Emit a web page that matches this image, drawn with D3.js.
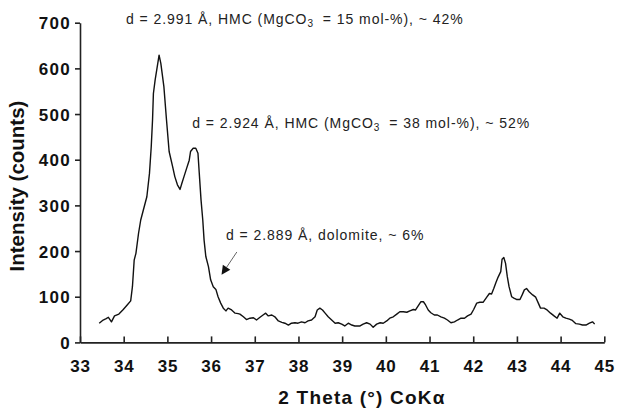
<!DOCTYPE html>
<html>
<head>
<meta charset="utf-8">
<script src="https://cdn.jsdelivr.net/npm/d3@7"></script>
<style>
  html, body { margin: 0; padding: 0; background: #fff; }
  svg { display: block; }
</style>
</head>
<body>
<svg id="chart" width="619" height="409"></svg>
<script>
const twoTheta = [33.44,33.53,33.60,33.65,33.72,33.79,33.89,33.99,34.08,34.16,34.20,34.24,34.28,34.34,34.39,34.45,34.53,34.59,34.63,34.66,34.68,34.72,34.78,34.81,34.85,34.92,34.98,35.04,35.12,35.17,35.23,35.29,35.33,35.38,35.44,35.50,35.53,35.59,35.65,35.70,35.73,35.77,35.81,35.84,35.88,35.94,35.99,36.05,36.11,36.16,36.22,36.28,36.34,36.39,36.47,36.55,36.62,36.66,36.74,36.81,36.89,36.97,37.04,37.12,37.19,37.25,37.31,37.39,37.46,37.54,37.62,37.69,37.77,37.84,37.92,37.99,38.07,38.15,38.22,38.30,38.38,38.43,38.49,38.55,38.61,38.68,38.76,38.84,38.91,38.99,39.06,39.14,39.22,39.29,39.41,39.48,39.56,39.64,39.71,39.79,39.87,39.94,40.02,40.09,40.17,40.25,40.32,40.40,40.48,40.55,40.63,40.68,40.74,40.80,40.86,40.91,40.97,41.03,41.11,41.18,41.26,41.34,41.41,41.49,41.57,41.64,41.72,41.80,41.87,41.95,42.01,42.08,42.15,42.23,42.31,42.37,42.42,42.47,42.52,42.57,42.63,42.66,42.70,42.74,42.78,42.82,42.88,42.93,42.99,43.07,43.12,43.17,43.22,43.28,43.36,43.43,43.49,43.54,43.62,43.69,43.77,43.85,43.92,43.98,44.05,44.12,44.20,44.27,44.35,44.43,44.50,44.58,44.66,44.73,44.78];
const intensity = [42,49,52,55,45,58,62,72,82,91,122,180,195,239,268,290,319,370,428,487,545,575,611,629,611,560,487,418,385,363,345,335,348,363,381,399,418,425,425,414,370,312,268,224,188,166,137,122,116,100,86,75,69,75,71,64,63,62,56,50,53,54,49,55,60,64,58,60,56,47,44,42,38,42,43,42,45,43,47,49,56,71,75,71,64,56,49,42,43,40,36,42,38,36,36,40,43,40,33,40,43,42,47,53,56,62,67,67,66,69,72,71,80,89,89,82,71,65,60,60,56,53,49,43,45,49,53,53,58,62,72,86,88,88,99,107,106,118,131,143,155,182,186,173,144,122,100,97,94,94,104,115,118,111,104,99,86,75,75,71,64,58,53,64,56,53,51,48,41,40,38,38,42,45,40];

const xTicks = [33,34,35,36,37,38,39,40,41,42,43,44,45];
const yTicks = [0,100,200,300,400,500,600,700];

const xTitle = "2 Theta (°) CoKα";
const yTitle = "Intensity (counts)";

const annotations = [
  { x: 34.05, y: 697, pre: "d = 2.991 Å, HMC (MgCO", sub: "3", post: " = 15 mol-%), ~ 42%" },
  { x: 35.57, y: 469, pre: "d = 2.924 Å, HMC (MgCO", sub: "3", post: " = 38 mol-%), ~ 52%" },
  { x: 36.34, y: 224, pre: "d = 2.889 Å, dolomite, ~ 6%", sub: "", post: "" }
];
const arrowFrom = { x: 36.59, y: 198 };
const arrowTo = { x: 36.24, y: 148 };

const svg = d3.select("#chart");
const x = d3.scaleLinear().domain([33, 45]).range([80, 604.3]);
const y = d3.scaleLinear().domain([0, 700]).range([342.4, 22.7]);

const tickFont = "Liberation Sans, Arial, Helvetica, sans-serif";

// X axis
const xAxis = d3.axisBottom(x).tickValues(xTicks).tickSizeInner(-6).tickSizeOuter(0).tickPadding(14);
const gx = svg.append("g").attr("transform", `translate(0,${y(0)})`).call(xAxis);
gx.select(".domain").attr("stroke", "#222").attr("stroke-width", 1.6);
gx.selectAll(".tick line").attr("stroke", "#222").attr("stroke-width", 1.6);
gx.selectAll(".tick text")
  .attr("font-family", tickFont).attr("font-weight", "bold").attr("font-size", 17)
  .attr("letter-spacing", 0.8).attr("fill", "#111").attr("dy", null).attr("y", 29.5)
  .attr("dominant-baseline", "alphabetic");

// Y axis
const yAxis = d3.axisLeft(y).tickValues(yTicks).tickSizeInner(5).tickSizeOuter(0).tickPadding(4);
const gy = svg.append("g").attr("transform", `translate(${x(33)},0)`).call(yAxis);
gy.select(".domain").attr("stroke", "#222").attr("stroke-width", 1.6);
gy.selectAll(".tick line").attr("stroke", "#222").attr("stroke-width", 1.6);
gy.selectAll(".tick text")
  .attr("font-family", tickFont).attr("font-weight", "bold").attr("font-size", 17)
  .attr("letter-spacing", 1.3).attr("fill", "#111").attr("dy", "0.36em");

// Titles
svg.append("text")
  .attr("x", 362).attr("y", 404).attr("text-anchor", "middle")
  .attr("font-family", tickFont).attr("font-weight", "bold").attr("font-size", 19)
  .attr("letter-spacing", 1.2).attr("fill", "#111").text(xTitle);

svg.append("text")
  .attr("transform", "translate(24,186) rotate(-90)").attr("text-anchor", "middle")
  .attr("font-family", tickFont).attr("font-weight", "bold").attr("font-size", 20.5)
  .attr("fill", "#111").text(yTitle);

// Curve
const pts = twoTheta.map((t, i) => [t, intensity[i]]);
svg.append("path")
  .datum(pts)
  .attr("fill", "none").attr("stroke", "#111").attr("stroke-width", 1.4)
  .attr("stroke-linejoin", "round")
  .attr("d", d3.line().x(d => x(d[0])).y(d => y(d[1])));

// Annotations
annotations.forEach(a => {
  const t = svg.append("text")
    .attr("x", x(a.x)).attr("y", y(a.y))
    .attr("font-family", tickFont).attr("font-size", 14)
    .attr("letter-spacing", 0.95).attr("fill", "#222");
  t.append("tspan").text(a.pre);
  if (a.sub) {
    t.append("tspan").attr("font-size", 10).attr("dy", 3).text(a.sub);
    t.append("tspan").attr("dy", -3).attr("dx", 4).text(a.post);
  }
});

// Arrow
const x1 = x(arrowFrom.x), y1 = y(arrowFrom.y), x2 = x(arrowTo.x), y2 = y(arrowTo.y);
const ang = Math.atan2(y2 - y1, x2 - x1);
const hl = 9, hw = 4.5;
const bx = x2 - hl * Math.cos(ang), by = y2 - hl * Math.sin(ang);
svg.append("line")
  .attr("x1", x1).attr("y1", y1).attr("x2", bx).attr("y2", by)
  .attr("stroke", "#666").attr("stroke-width", 1);
svg.append("path")
  .attr("d", `M${x2},${y2}L${bx - hw * Math.sin(ang)},${by + hw * Math.cos(ang)}L${bx + hw * Math.sin(ang)},${by - hw * Math.cos(ang)}Z`)
  .attr("fill", "#111");
</script>
</body>
</html>
